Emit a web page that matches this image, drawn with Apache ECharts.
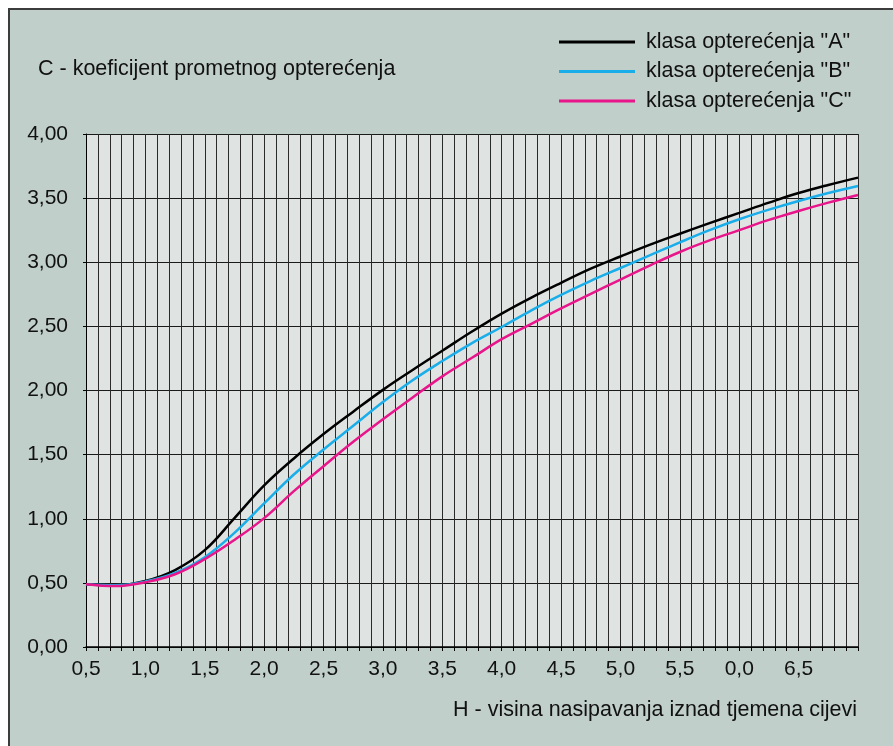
<!DOCTYPE html>
<html>
<head>
<meta charset="utf-8">
<script src="https://cdn.jsdelivr.net/npm/echarts@6/dist/echarts.min.js"></script>
<style>
html,body{margin:0;padding:0;background:#fff;}
#chart{width:893px;height:746px;}
</style>
</head>
<body>
<div id="chart"></div>
<script>
// ---- data ----
const xs = [0.5,0.75,1.0,1.25,1.5,1.75,2.0,2.25,2.5,2.75,3.0,3.25,3.5,3.75,4.0,4.25,4.5,4.75,5.0,5.25,5.5,5.75,6.0,6.25,6.5,6.75,7.0];
const classA = [0.49,0.482,0.515,0.60,0.755,1.005,1.26,1.47,1.66,1.835,2.005,2.16,2.31,2.46,2.60,2.725,2.84,2.95,3.045,3.137,3.222,3.305,3.385,3.465,3.54,3.603,3.66];
const classB = [0.49,0.481,0.51,0.577,0.70,0.89,1.12,1.345,1.54,1.725,1.91,2.08,2.23,2.37,2.495,2.625,2.745,2.855,2.955,3.055,3.155,3.25,3.335,3.41,3.478,3.54,3.595];
const classC = [0.49,0.475,0.505,0.567,0.685,0.835,1.005,1.215,1.41,1.60,1.775,1.945,2.11,2.255,2.40,2.52,2.64,2.753,2.865,2.976,3.08,3.17,3.25,3.33,3.40,3.465,3.525];
const seriesNames = ['klasa opterećenja "A"','klasa opterećenja "B"','klasa opterećenja "C"'];
const xTickLabels = ['0,5','1,0','1,5','2,0','2,5','3,0','3,5','4,0','4,5','5,0','5,5','0,0','6,5'];
const yTitle = 'C - koeficijent prometnog opterećenja';
const xTitle = 'H - visina nasipavanja iznad tjemena cijevi';

const FONT = '"Liberation Sans", Arial, Helvetica, sans-serif';
const colors = ['#000000','#19aeea','#e8158b'];

function pairs(ys){ return xs.map((x,i)=>[x, ys[i]]); }

const chart = echarts.init(document.getElementById('chart'), null, {renderer:'canvas'});
chart.setOption({
  backgroundColor:'#ffffff',
  animation:false,
  textStyle:{fontFamily:FONT},
  graphic:[
    {type:'rect', z:-10, silent:true,
     shape:{x:9, y:9, width:900, height:800},
     style:{fill:'#c1cfca', stroke:'#3c3c3c', lineWidth:2}}
  ],
  title:[
    {text:yTitle, left:38, top:58, padding:0,
     textStyle:{fontFamily:FONT, fontSize:21.5, fontWeight:'normal', color:'#111', lineHeight:22}},
    {text:xTitle, right:36, top:699, padding:0,
     textStyle:{fontFamily:FONT, fontSize:21.5, fontWeight:'normal', color:'#111', lineHeight:22}}
  ],
  legend:{
    orient:'vertical', left:559, top:31, padding:0,
    itemWidth:76, itemHeight:3, itemGap:7.5, icon:'rect',
    data:seriesNames,
    textStyle:{fontFamily:FONT, fontSize:21.5, color:'#111', lineHeight:22, padding:[0,0,0,6]}
  },
  grid:{left:86, right:35, top:134, bottom:99, show:true, backgroundColor:'#dfe3e1', borderWidth:0},
  xAxis:{
    type:'value', min:0.5, max:7.0, interval:0.1,
    axisLine:{show:true, lineStyle:{color:'#000', width:1.5}},
    axisTick:{show:true, length:4, lineStyle:{color:'#000', width:1}},
    splitLine:{show:true, lineStyle:{color:'#2a2a2a', width:1}},
    axisLabel:{
      margin:12, fontFamily:FONT, fontSize:21, color:'#111',
      showMinLabel:true, showMaxLabel:true,
      formatter:function(v){
        const i = Math.round((v-0.5)*10);
        if(i%5===0){ const k=i/5; return xTickLabels[k]!==undefined ? xTickLabels[k] : ''; }
        return '';
      }
    }
  },
  yAxis:{
    type:'value', min:0, max:4, interval:0.5,
    axisLine:{show:true, lineStyle:{color:'#000', width:1}},
    axisTick:{show:true, length:3, lineStyle:{color:'#000'}},
    splitLine:{show:true, lineStyle:{color:'#1a1a1a', width:1}},
    axisLabel:{margin:18, fontFamily:FONT, fontSize:21, color:'#111',
      formatter:function(v){ return v.toFixed(2).replace('.',','); }}
  },
  series:[
    {name:seriesNames[0], type:'line', data:pairs(classA), smooth:0.4,
     showSymbol:false, color:colors[0], lineStyle:{width:2.5, color:colors[0]}, z:3},
    {name:seriesNames[1], type:'line', data:pairs(classB), smooth:0.4,
     showSymbol:false, color:colors[1], lineStyle:{width:2.5, color:colors[1]}, z:4},
    {name:seriesNames[2], type:'line', data:pairs(classC), smooth:0.4,
     showSymbol:false, color:colors[2], lineStyle:{width:2.5, color:colors[2]}, z:5}
  ]
});
</script>
</body>
</html>
